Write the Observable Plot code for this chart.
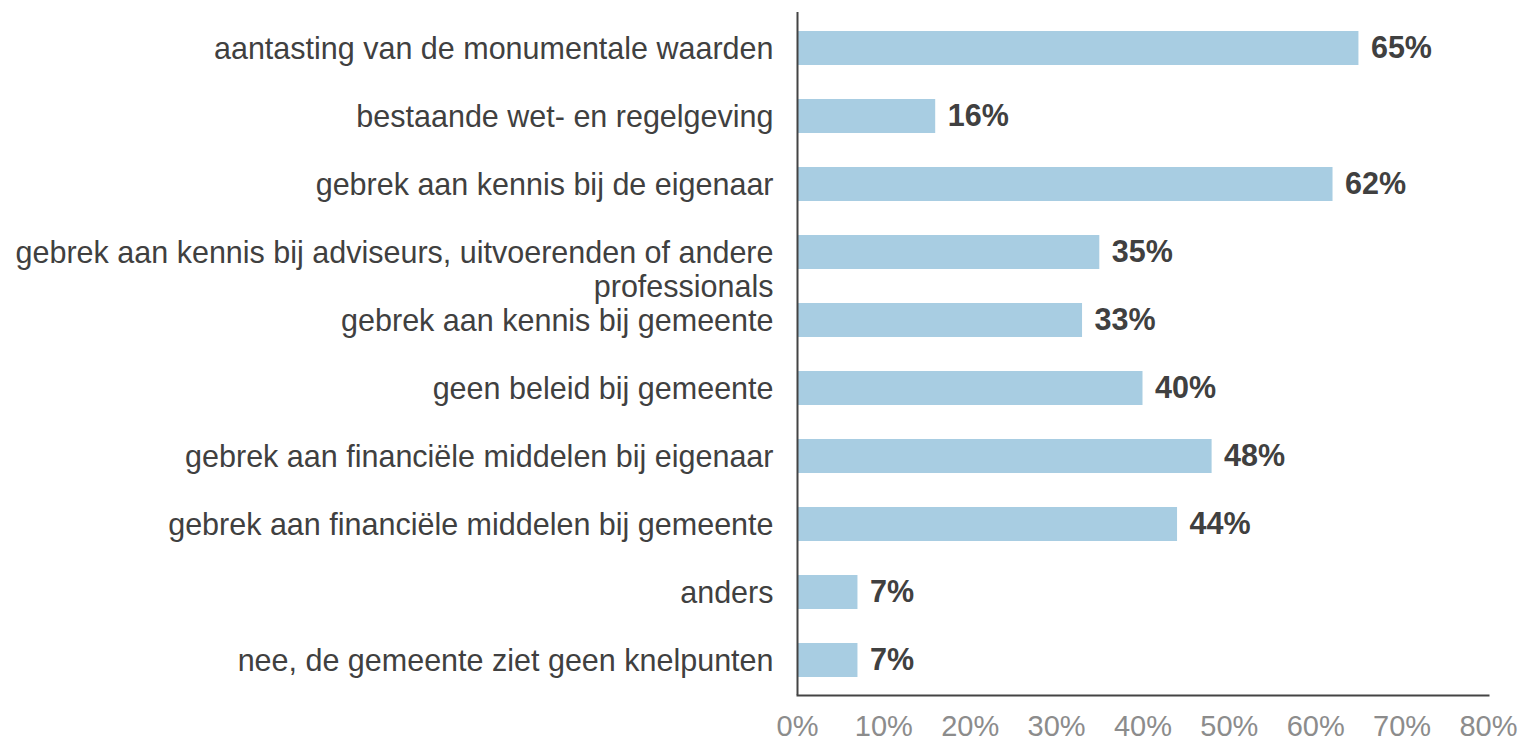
<!DOCTYPE html>
<html><head><meta charset="utf-8">
<script src="https://cdn.jsdelivr.net/npm/d3@7"></script>
<script src="https://cdn.jsdelivr.net/npm/@observablehq/plot@0.6"></script>
<style>body{margin:0;background:#fff;font-family:"Liberation Sans",Arial,sans-serif}</style>
</head><body><div id="chart"></div>
<script>
const categories = [
  "aantasting van de monumentale waarden",
  "bestaande wet- en regelgeving",
  "gebrek aan kennis bij de eigenaar",
  "gebrek aan kennis bij adviseurs, uitvoerenden of andere\nprofessionals",
  "gebrek aan kennis bij gemeente",
  "geen beleid bij gemeente",
  "gebrek aan financiële middelen bij eigenaar",
  "gebrek aan financiële middelen bij gemeente",
  "anders",
  "nee, de gemeente ziet geen knelpunten"
];
const values = [65, 16, 62, 35, 33, 40, 48, 44, 7, 7];
const xTicks = [0, 10, 20, 30, 40, 50, 60, 70, 80];

const data = categories.map((c, i) => ({cat: c, v: values[i]}));
const fs = 30.5;

const plot = Plot.plot({
  width: 1525, height: 742,
  marginLeft: 797, marginRight: 37, marginTop: 12, marginBottom: 47,
  style: {fontFamily: "'Liberation Sans', Arial, sans-serif", background: "#fff"},
  x: {domain: [0, 80], axis: null, label: null},
  y: {domain: categories, paddingInner: 0.5, paddingOuter: 0.25, axis: null, label: null},
  marks: [
    Plot.barX(data, {x: "v", y: "cat", fill: "#a8cde2"}),
    Plot.text(data, {x: 0, y: "cat", text: "cat", textAnchor: "end", dx: -24, lineAnchor: "top", dy: -0.44 * fs, lineHeight: 34 / fs, fontSize: fs, fill: "#404040"}),
    Plot.text(data, {x: "v", y: "cat", text: d => d.v + "%", textAnchor: "start", dx: 12, fontSize: fs, fontWeight: "bold", fill: "#404040"}),
    Plot.axisX({ticks: xTicks, tickFormat: d => d + "%", tickSize: 0, tickPadding: 20, fontSize: 29, color: "#8c8c8c", label: null}),
    Plot.ruleX([0], {stroke: "#444", strokeWidth: 2}),
    Plot.frame({anchor: "bottom", stroke: "#444", strokeWidth: 2})
  ]
});
document.getElementById("chart").appendChild(plot);
</script></body></html>
